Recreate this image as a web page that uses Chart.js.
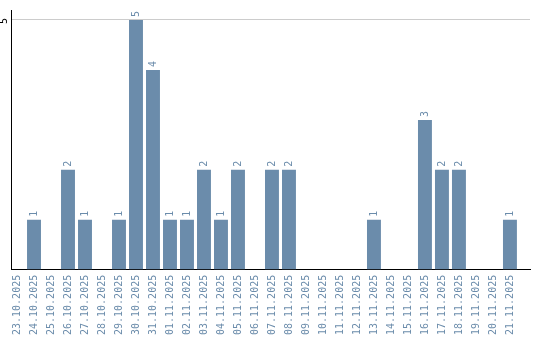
<!DOCTYPE html>
<html>
<head>
<meta charset="utf-8">
<script src="https://cdn.jsdelivr.net/npm/chart.js@4.4.1/dist/chart.umd.min.js"></script>
<style>
  html, body { margin: 0; padding: 0; background: #fff; }
  #wrap { width: 540px; height: 340px; }
</style>
</head>
<body>
<div id="wrap"><canvas id="chart" width="540" height="340"></canvas></div>
<script>
// daily counts
const days = ['23.10.2025', '24.10.2025', '25.10.2025', '26.10.2025', '27.10.2025',
    '28.10.2025', '29.10.2025', '30.10.2025', '31.10.2025', '01.11.2025',
    '02.11.2025', '03.11.2025', '04.11.2025', '05.11.2025', '06.11.2025',
    '07.11.2025', '08.11.2025', '09.11.2025', '10.11.2025', '11.11.2025',
    '12.11.2025', '13.11.2025', '14.11.2025', '15.11.2025', '16.11.2025',
    '17.11.2025', '18.11.2025', '19.11.2025', '20.11.2025', '21.11.2025'];
const counts = [0, 1, 0, 2, 1, 0, 1, 5, 4, 1, 1, 2, 1, 2, 0, 2, 2, 0, 0, 0, 0, 1, 0, 0, 3, 2, 2, 0, 0, 1];
const yTicks = [5];

const barColor = '#6b8cab';
const font = { family: '"DejaVu Sans Mono", monospace', size: 10 };

// rotated value labels above the bars + rotated y tick label
const rotatedLabels = {
    id: 'rotatedLabels',
    afterDatasetsDraw(chart) {
        const ctx = chart.ctx;
        const meta = chart.getDatasetMeta(0);
        ctx.save();
        ctx.fillStyle = barColor;
        ctx.font = font.size + 'px ' + font.family;
        ctx.textAlign = 'left';
        ctx.textBaseline = 'middle';
        meta.data.forEach((bar, i) => {
            if (!counts[i]) return;
            ctx.save();
            ctx.translate(bar.x, bar.y - 3);
            ctx.rotate(-Math.PI / 2);
            ctx.fillText(String(counts[i]), 0, 0);
            ctx.restore();
        });
        const y = chart.scales.y;
        ctx.fillStyle = '#000';
        ctx.textAlign = 'center';
        yTicks.forEach(t => {
            ctx.save();
            ctx.translate(y.right - 7, y.getPixelForValue(t) + 1);
            ctx.rotate(-Math.PI / 2);
            ctx.fillText(String(t), 0, 0);
            ctx.restore();
        });
        ctx.restore();
    }
};

new Chart(document.getElementById('chart'), {
    type: 'bar',
    data: {
        datasets: [{
            data: counts.map((v, i) => ({ x: i, y: v })),
            backgroundColor: barColor,
            borderWidth: 0,
            barPercentage: 0.82,
            categoryPercentage: 1
        }]
    },
    options: {
        responsive: false,
        animation: false,
        layout: { padding: { left: 11, right: 10, top: 10, bottom: 0 } },
        plugins: {
            legend: { display: false },
            tooltip: { enabled: false }
        },
        scales: {
            x: {
                type: 'linear',
                offset: false,
                min: -0.353,
                max: 30.18,
                grid: { display: false, drawTicks: false, offset: false },
                border: { display: true, color: '#000', width: 1 },
                ticks: {
                    stepSize: 1,
                    includeBounds: false,
                    autoSkip: false,
                    minRotation: 90,
                    maxRotation: 90,
                    padding: 5,
                    color: barColor,
                    font: font,
                    callback: v => (Number.isInteger(v) && days[v]) ? days[v] : null
                },
                afterFit: s => { s.paddingLeft = 0; s.paddingRight = 0; }
            },
            y: {
                min: 0,
                max: 5.2,
                grid: {
                    color: ctx => ctx.tick && ctx.tick.value === 5 ? '#cccccc' : 'rgba(0,0,0,0)',
                    drawTicks: false
                },
                border: { display: true, color: '#000', width: 1 },
                ticks: { display: false, stepSize: 5, includeBounds: false }
            }
        }
    },
    plugins: [rotatedLabels]
});
</script>
</body>
</html>
